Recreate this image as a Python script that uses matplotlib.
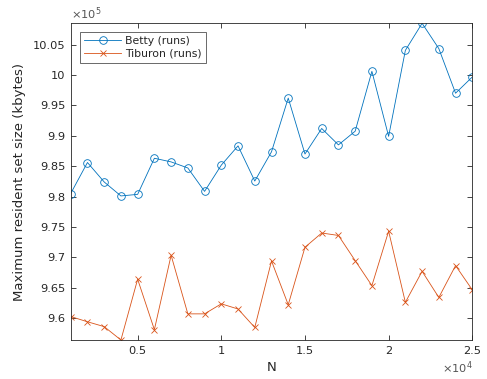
import matplotlib
matplotlib.use("Agg")
import matplotlib.pyplot as plt
from matplotlib.ticker import FuncFormatter, FixedLocator

N = [1000, 2000, 3000, 4000, 5000, 6000, 7000, 8000, 9000, 10000, 11000, 12000, 13000,
     14000, 15000, 16000, 17000, 18000, 19000, 20000, 21000, 22000, 23000, 24000, 25000]
betty = [980500, 985600, 982400, 980100, 980360, 986300, 985700, 984700, 980850, 985170,
         988340, 982550, 987360, 996200, 987000, 991200, 988500, 990750, 1000600, 989900,
         1004050, 1008500, 1004340, 997000, 999670]
tiburon = [960260, 959400, 958600, 956400, 966400, 958100, 970340, 960700, 960700, 962350,
           961500, 958460, 969400, 962200, 971660, 974000, 973600, 969460, 965350, 974300,
           962600, 967700, 963400, 968640, 964650]

xticks = [5000, 10000, 15000, 20000, 25000]
yticks = [960000, 965000, 970000, 975000, 980000, 985000, 990000, 995000, 1000000, 1005000]

c_ax = "#262626"
blue = "#0072BD"
orange = "#D95319"

fig = plt.figure(figsize=(4.87, 3.79), dpi=100)
ax = fig.add_axes([0.1452, 0.1029, 0.8246, 0.8356])

ax.plot(N, betty, color=blue, lw=0.6, marker="o", mfc="none", mec=blue, ms=5.5, mew=0.6,
        label="Betty (runs)")
ax.plot(N, tiburon, color=orange, lw=0.6, marker="x", mec=orange, ms=4.5, mew=0.6,
        label="Tiburon (runs)")

ax.set_xlim(min(N), max(N))
ax.set_ylim(min(tiburon), max(betty))
ax.xaxis.set_major_locator(FixedLocator(xticks))
ax.yaxis.set_major_locator(FixedLocator(yticks))
ax.xaxis.set_major_formatter(FuncFormatter(lambda v, p: "%g" % (v / 1e4)))
ax.yaxis.set_major_formatter(FuncFormatter(lambda v, p: "%g" % round(v / 1e5, 4)))

ax.tick_params(direction="in", top=True, right=True, length=3.5, width=0.6,
               colors=c_ax, labelsize=8.2, pad=4)
for s in ax.spines.values():
    s.set_color(c_ax)
    s.set_linewidth(0.6)

ax.set_xlabel("N", fontsize=9.5, color=c_ax, labelpad=4)
ax.set_ylabel("Maximum resident set size (kbytes)", fontsize=9.5, color=c_ax, labelpad=5)

ax.text(0.0, 1.003, r"$\times10^{5}$", transform=ax.transAxes, fontsize=8.2, color="#555555",
        ha="left", va="bottom")
ax.text(1.0, -0.088, r"$\times10^{4}$", transform=ax.transAxes, fontsize=8.2, color="#555555",
        ha="right", va="center")

leg = ax.legend(loc="upper left", bbox_to_anchor=(0.023, 0.973), borderaxespad=0,
                fontsize=7.8, frameon=True, fancybox=False, edgecolor=c_ax, handlelength=3.4,
                borderpad=0.4, labelspacing=0.2, handletextpad=0.4)
leg.get_frame().set_linewidth(0.6)
for t in leg.get_texts():
    t.set_color(c_ax)

fig.savefig("out.png", dpi=100)
